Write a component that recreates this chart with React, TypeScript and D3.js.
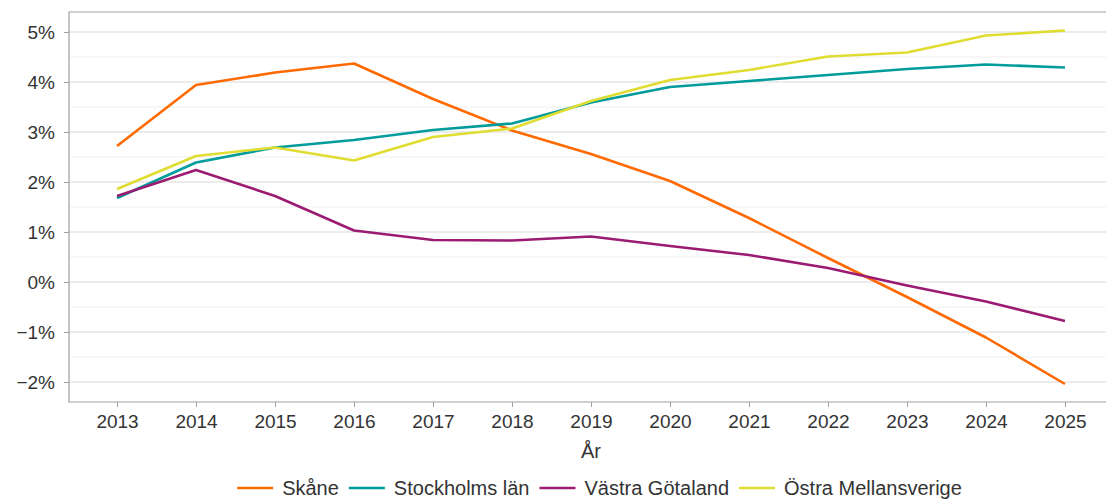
import { useRef, useEffect } from "react";
import * as d3 from "d3";

const years = [2013, 2014, 2015, 2016, 2017, 2018, 2019, 2020, 2021, 2022, 2023, 2024, 2025];
const skane = [2.72, 3.94, 4.19, 4.37, 3.66, 3.03, 2.56, 2.02, 1.28, 0.48, -0.3, -1.11, -2.04];
const stockholm = [1.68, 2.39, 2.69, 2.84, 3.04, 3.17, 3.59, 3.9, 4.02, 4.14, 4.26, 4.35, 4.29];
const vastra = [1.72, 2.24, 1.72, 1.03, 0.84, 0.83, 0.91, 0.72, 0.54, 0.28, -0.07, -0.39, -0.78];
const ostra = [1.86, 2.52, 2.69, 2.43, 2.9, 3.07, 3.62, 4.04, 4.24, 4.51, 4.59, 4.93, 5.03];
const yTicks = [-2, -1, 0, 1, 2, 3, 4, 5];
const yMinor = [-1.5, -0.5, 0.5, 1.5, 2.5, 3.5, 4.5];

const series = [
  { name: "Skåne", values: skane, color: "#ff6a00" },
  { name: "Stockholms län", values: stockholm, color: "#009b9b" },
  { name: "Västra Götaland", values: vastra, color: "#9c1b72" },
  { name: "Östra Mellansverige", values: ostra, color: "#e0dd32" },
];

export default function App() {
  const svgRef = useRef<SVGSVGElement>(null);

  useEffect(() => {
    const svg = d3.select(svgRef.current);
    svg.selectAll("*").remove();

    const font = "'Liberation Sans', Arial, sans-serif";
    const textColor = "#333333";
    const panel = { left: 69, right: 1113, top: 12, bottom: 402 };

    const x = d3.scalePoint<number>()
      .domain(years)
      .range([panel.left, panel.right])
      .padding(0.608);

    const y = d3.scaleLinear()
      .domain([-2.4, 5.4])
      .range([panel.bottom, panel.top]);

    // minor grid
    svg.append("g")
      .selectAll("line")
      .data(yMinor)
      .join("line")
      .attr("x1", panel.left).attr("x2", panel.right)
      .attr("y1", d => y(d)).attr("y2", d => y(d))
      .attr("stroke", "#f4f4f4")
      .attr("stroke-width", 1.5);

    // major grid
    svg.append("g")
      .selectAll("line")
      .data(yTicks)
      .join("line")
      .attr("x1", panel.left).attr("x2", panel.right)
      .attr("y1", d => y(d)).attr("y2", d => y(d))
      .attr("stroke", "#e6e6e6")
      .attr("stroke-width", 1.5);

    // panel border
    svg.append("path")
      .attr("d", `M${panel.right},${panel.top}H${panel.left}V${panel.bottom}H${panel.right}`)
      .attr("fill", "none")
      .attr("stroke", "#a0a0a0")
      .attr("stroke-width", 1.2);

    // y axis
    const yAxis = svg.append("g")
      .attr("transform", `translate(${panel.left},0)`)
      .call(d3.axisLeft(y).tickValues(yTicks).tickSize(5).tickPadding(9)
        .tickFormat(d => d3.format("d")(d as number).replace("-", "−") + "%"));
    yAxis.select(".domain").remove();
    yAxis.selectAll("line").attr("stroke", "#a0a0a0");
    yAxis.selectAll("text")
      .attr("fill", textColor)
      .style("font-family", font)
      .style("font-size", "19px");

    // x axis
    const xAxis = svg.append("g")
      .attr("transform", `translate(0,${panel.bottom})`)
      .call(d3.axisBottom(x).tickSize(5).tickPadding(8));
    xAxis.select(".domain").remove();
    xAxis.selectAll("line").attr("stroke", "#a0a0a0");
    xAxis.selectAll("text")
      .attr("fill", textColor)
      .style("font-family", font)
      .style("font-size", "19px");

    svg.append("text")
      .attr("x", (panel.left + panel.right) / 2)
      .attr("y", 458)
      .attr("text-anchor", "middle")
      .attr("fill", textColor)
      .style("font-family", font)
      .style("font-size", "20px")
      .text("År");

    // lines
    const line = d3.line<number>()
      .x((_, i) => x(years[i]) as number)
      .y(d => y(d));

    svg.append("g")
      .selectAll("path")
      .data(series)
      .join("path")
      .attr("fill", "none")
      .attr("stroke", d => d.color)
      .attr("stroke-width", 2.6)
      .attr("stroke-linejoin", "round")
      .attr("d", d => line(d.values));

    // legend
    const legend = svg.append("g");
    const keyW = 36, gap = 9, itemGap = 10;
    let cx = 0;
    series.forEach(s => {
      const g = legend.append("g").attr("transform", `translate(${cx},0)`);
      g.append("line")
        .attr("x1", 0).attr("x2", keyW)
        .attr("y1", 0).attr("y2", 0)
        .attr("stroke", s.color)
        .attr("stroke-width", 2.6);
      const t = g.append("text")
        .attr("x", keyW + gap)
        .attr("y", 0)
        .attr("dy", "0.35em")
        .attr("fill", textColor)
        .style("font-family", font)
        .style("font-size", "20px")
        .text(s.name);
      const tw = (t.node() as SVGTextElement).getComputedTextLength();
      cx += keyW + gap + tw + itemGap;
    });
    const total = cx - itemGap;
    legend.attr("transform", `translate(${599.5 - total / 2},488)`);
  }, []);

  return (
    <svg
      ref={svgRef}
      width={1106}
      height={499}
      style={{ position: "absolute", left: 0, top: 0, background: "#fff" }}
    />
  );
}
